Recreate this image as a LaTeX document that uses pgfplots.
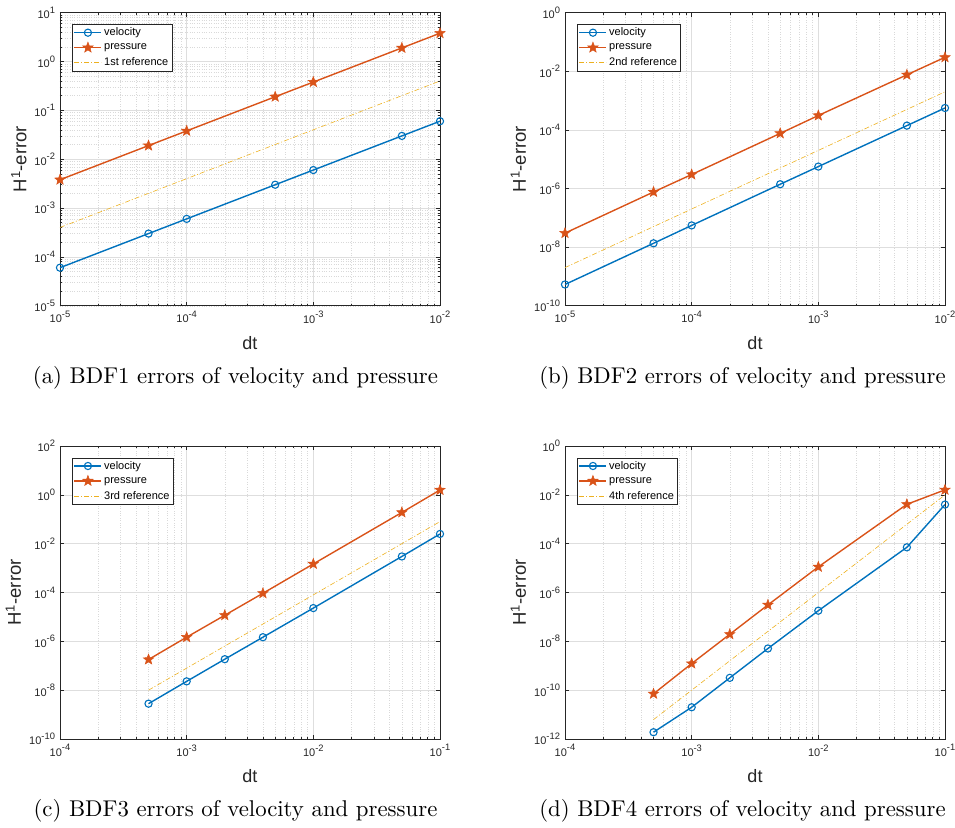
\documentclass[border=0pt]{standalone}
\usepackage{fontspec}
\usepackage{graphicx}
\usepackage{pgfplots}
\pgfplotsset{compat=1.18}
\newfontfamily\arial{Liberation Sans}
\definecolor{mblue}{rgb}{0,0.447,0.741}
\definecolor{morange}{rgb}{0.85,0.325,0.098}
\definecolor{myellow}{rgb}{0.929,0.694,0.125}
\definecolor{axgray}{rgb}{0.15,0.15,0.15}
\pgfdeclareplotmark{pstar}{%
  \pgfpathmoveto{\pgfpointpolar{90}{\pgfplotmarksize}}%
  \pgfpathlineto{\pgfpointpolar{126}{0.42\pgfplotmarksize}}%
  \pgfpathlineto{\pgfpointpolar{162}{\pgfplotmarksize}}%
  \pgfpathlineto{\pgfpointpolar{198}{0.42\pgfplotmarksize}}%
  \pgfpathlineto{\pgfpointpolar{234}{\pgfplotmarksize}}%
  \pgfpathlineto{\pgfpointpolar{270}{0.42\pgfplotmarksize}}%
  \pgfpathlineto{\pgfpointpolar{306}{\pgfplotmarksize}}%
  \pgfpathlineto{\pgfpointpolar{342}{0.42\pgfplotmarksize}}%
  \pgfpathlineto{\pgfpointpolar{18}{\pgfplotmarksize}}%
  \pgfpathlineto{\pgfpointpolar{54}{0.42\pgfplotmarksize}}%
  \pgfpathclose
  \pgfusepathqfillstroke}
\newcommand\tlab[1]{\pgfmathparse{int(round(#1/2.302585093))}\edef\tmpexp{\pgfmathresult}10\raisebox{0.48em}{\scalebox{0.85}{\tmpexp}}}
\pgfplotsset{
  every axis/.append style={
    scale only axis, width=380pt, height=293pt,
    anchor=north west,
    axis line style={axgray, line width=0.5pt},
    major tick length=4pt, minor tick length=2pt,
    tick align=inside,
    tick style={axgray, line width=0.5pt},
    grid=both,
    major grid style={color=black!13, line width=0.5pt, solid},
    minor grid style={color=black!15, line width=0.4pt, dotted},
    xticklabel={\tlab{\tick}}, yticklabel={\tlab{\tick}},
    tick label style={font=\arial\fontsize{11}{12}\selectfont, text=axgray},
    xticklabel style={yshift=-2pt},
    yticklabel style={xshift=-1.5pt},
    xlabel={dt},
    ylabel={H\textsuperscript{1}-error},
    x label style={at={(axis description cs:0.5,-0.1263)}, anchor=center, text=axgray, font=\arial\fontsize{18}{20}\selectfont},
    y label style={anchor=center, text=axgray, font=\arial\fontsize{18.5}{21}\selectfont},
    legend style={at={(axis description cs:0,1)}, anchor=north west, xshift=12pt, yshift=-11.5pt,
      draw=axgray, line width=0.5pt, fill=white, font=\arial\fontsize{11}{13}\selectfont,
      inner sep=1.5pt, row sep=2.5pt},
    legend cell align=left,
  },
  legend image code/.code={\draw[mark repeat=2,mark phase=2,#1] plot coordinates {(0pt,0pt) (13.5pt,0pt) (27pt,0pt)};},
}
\tikzset{
  velline/.style={color=mblue, line width=1.4pt, mark=o, mark size=3.6pt, mark options={solid, line width=1.1pt}},
  presline/.style={color=morange, line width=1.4pt, mark=pstar, mark size=5.5pt, mark options={solid, fill=morange, line width=0.5pt}},
  refline/.style={color=myellow, line width=0.6pt, dash pattern=on 5pt off 2pt on 1pt off 2pt},
}
\begin{document}
\begin{tikzpicture}
\useasboundingbox (0,0) rectangle (955pt,-827pt);
% (a)
\begin{loglogaxis}[at={(60pt,-12.7pt)}, xmin=1e-5, xmax=1e-2, ymin=1e-5, ymax=1e1,
  xtick={1e-5,1e-4,1e-3,1e-2}, ytick={1e-5,1e-4,1e-3,1e-2,1e-1,1e0,1e1},
  y label style={at={(axis description cs:-0.1079,0.5)}}]
\addplot[velline] coordinates {(1e-5,6e-5) (5e-5,3e-4) (1e-4,6e-4) (5e-4,3e-3) (1e-3,6e-3) (5e-3,3e-2) (1e-2,6e-2)};
\addplot[presline] coordinates {(1e-5,3.8e-3) (5e-5,1.9e-2) (1e-4,3.8e-2) (5e-4,1.9e-1) (1e-3,3.8e-1) (5e-3,1.9) (1e-2,3.8)};
\addplot[refline] coordinates {(1e-5,4e-4) (5e-5,2e-3) (1e-4,4e-3) (5e-4,2e-2) (1e-3,4e-2) (5e-3,0.2) (1e-2,0.4)};
\legend{velocity, pressure, 1st reference}
\end{loglogaxis}
% (b)
\begin{loglogaxis}[at={(565pt,-12.7pt)}, xmin=1e-5, xmax=1e-2, ymin=1e-10, ymax=1e0,
  xtick={1e-5,1e-4,1e-3,1e-2}, ytick={1e-10,1e-8,1e-6,1e-4,1e-2,1e0},
  yminorgrids=false,
  y label style={at={(axis description cs:-0.1224,0.5)}}]
\addplot[velline] coordinates {(1e-5,5.3e-10) (5e-5,1.35e-8) (1e-4,5.5e-8) (5e-4,1.4e-6) (1e-3,5.6e-6) (5e-3,1.4e-4) (1e-2,5.6e-4)};
\addplot[presline] coordinates {(1e-5,3e-8) (5e-5,7.6e-7) (1e-4,3.0e-6) (5e-4,7.6e-5) (1e-3,3.1e-4) (5e-3,7.6e-3) (1e-2,3.0e-2)};
\addplot[refline] coordinates {(1e-5,2e-9) (5e-5,5e-8) (1e-4,2e-7) (5e-4,5e-6) (1e-3,2e-5) (5e-3,5e-4) (1e-2,2e-3)};
\legend{velocity, pressure, 2nd reference}
\end{loglogaxis}
% (c)
\begin{loglogaxis}[at={(60pt,-446pt)}, xmin=1e-4, xmax=1e-1, ymin=1e-10, ymax=1e2,
  xtick={1e-4,1e-3,1e-2,1e-1}, ytick={1e-10,1e-8,1e-6,1e-4,1e-2,1e0,1e2},
  yminorgrids=false,
  y label style={at={(axis description cs:-0.1224,0.5)}}]
\addplot[velline] coordinates {(5e-4,2.8e-9) (1e-3,2.3e-8) (2e-3,1.86e-7) (4e-3,1.48e-6) (1e-2,2.3e-5) (5e-2,3.0e-3) (1e-1,2.5e-2)};
\addplot[presline] coordinates {(5e-4,1.8e-7) (1e-3,1.48e-6) (2e-3,1.17e-5) (4e-3,9.3e-5) (1e-2,1.48e-3) (5e-2,0.19) (1e-1,1.58)};
\addplot[refline] coordinates {(5e-4,1e-8) (1e-3,8e-8) (2e-3,6.4e-7) (4e-3,5.12e-6) (1e-2,8e-5) (5e-2,1e-2) (1e-1,8e-2)};
\legend{velocity, pressure, 3rd reference}
\end{loglogaxis}
% (d)
\begin{loglogaxis}[at={(565pt,-446pt)}, xmin=1e-4, xmax=1e-1, ymin=1e-12, ymax=1e0,
  xtick={1e-4,1e-3,1e-2,1e-1}, ytick={1e-12,1e-10,1e-8,1e-6,1e-4,1e-2,1e0},
  yminorgrids=false,
  y label style={at={(axis description cs:-0.1224,0.5)}}]
\addplot[velline] coordinates {(5e-4,1.9e-12) (1e-3,2.0e-11) (2e-3,3.2e-10) (4e-3,5.1e-9) (1e-2,1.8e-7) (5e-2,7.1e-5) (1e-1,4.0e-3)};
\addplot[presline] coordinates {(5e-4,7.1e-11) (1e-3,1.23e-9) (2e-3,1.95e-8) (4e-3,3.1e-7) (1e-2,1.12e-5) (5e-2,4.1e-3) (1e-1,1.6e-2)};
\addplot[refline] coordinates {(5e-4,6.25e-12) (1e-3,1e-10) (2e-3,1.6e-9) (4e-3,2.56e-8) (1e-2,1e-6) (5e-2,6.25e-4) (1e-1,1e-2)};
\legend{velocity, pressure, 4th reference}
\end{loglogaxis}
% captions
\node[scale=2.28, font=\fontsize{10}{12}\selectfont] at (235.5pt,-378pt) {(a) BDF1 errors of velocity and pressure};
\node[scale=2.28, font=\fontsize{10}{12}\selectfont] at (742.5pt,-378pt) {(b) BDF2 errors of velocity and pressure};
\node[scale=2.28, font=\fontsize{10}{12}\selectfont] at (235.5pt,-811pt) {(c) BDF3 errors of velocity and pressure};
\node[scale=2.28, font=\fontsize{10}{12}\selectfont] at (742.5pt,-811pt) {(d) BDF4 errors of velocity and pressure};
\end{tikzpicture}
\end{document}
